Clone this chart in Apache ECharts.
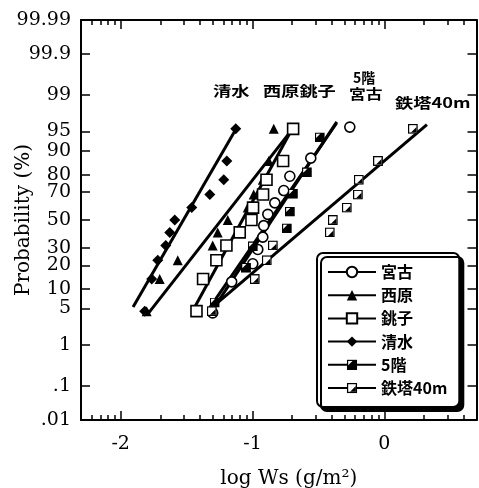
<!DOCTYPE html>
<html>
<head>
<meta charset="utf-8">
<script src="https://cdn.jsdelivr.net/npm/echarts@6/dist/echarts.min.js"></script>
<style>
  html, body { margin: 0; padding: 0; background: #fff; }
  #chart { width: 479px; height: 488px; }
</style>
</head>
<body>
<div id="chart"></div>
<script>
// ---- tick labels of the normal-probability axis (percent) ----
const yTickProb   = [0.01, 0.1, 1, 5, 10, 20, 30, 50, 70, 80, 90, 95, 99, 99.9, 99.99];
const yTickLabels = ['.01', '.1', '1', '5', '10', '20', '30', '50', '70', '80', '90', '95', '99', '99.9', '99.99'];

// ---- log-scale ticks of Ws (g/m2) ----
const xMajorWs = [0.01, 0.1, 1];
const xMinorWs = [0.006, 0.007, 0.008, 0.009,
                  0.02, 0.03, 0.04, 0.05, 0.06, 0.07, 0.08, 0.09,
                  0.2, 0.3, 0.4, 0.5, 0.6, 0.7, 0.8, 0.9,
                  2, 3, 4];
const wsMin = 0.005, wsMax = 5;

// ---- observations: log Ws and cumulative probability (%) ----
const miyakoLogWs = [-1.302, -1.158, -0.998, -0.960, -0.922, -0.915, -0.884, -0.831, -0.763, -0.717, -0.558, -0.262];
const miyakoProb  = [4.2, 12.5, 20.8, 29.2, 37.5, 45.8, 54.2, 62.5, 70.8, 79.2, 87.5, 95.8];

const nishiharaLogWs = [-1.803, -1.704, -1.567, -1.302, -1.264, -1.188, -1.036, -0.991, -0.922, -0.877, -0.839];
const nishiharaProb  = [4.5, 13.6, 22.7, 31.8, 40.9, 50, 59.1, 68.2, 77.3, 86.4, 95.5];

const choshiLogWs = [-1.425, -1.375, -1.274, -1.198, -1.097, -1.008, -0.996, -0.920, -0.894, -0.768, -0.692];
const choshiProb  = [4.5, 13.6, 22.7, 31.8, 40.9, 50, 59.1, 68.2, 77.3, 86.4, 95.5];

const shimizuLogWs = [-1.818, -1.765, -1.719, -1.658, -1.628, -1.590, -1.461, -1.324, -1.218, -1.195, -1.127];
const shimizuProb  = [4.5, 13.6, 22.7, 31.8, 40.9, 50, 59.1, 68.2, 77.3, 86.4, 95.5];

const floor5LogWs = [-1.287, -1.050, -0.998, -0.740, -0.717, -0.694, -0.588, -0.490];
const floor5Prob  = [6.25, 18.75, 31.25, 43.75, 56.25, 68.75, 81.25, 93.75];

const towerLogWs = [-1.309, -0.983, -0.892, -0.846, -0.414, -0.391, -0.285, -0.201, -0.194, -0.049, 0.216];
const towerProb  = [4.5, 13.6, 22.7, 31.8, 40.9, 50, 59.1, 68.2, 77.3, 86.4, 95.5];

// ---- fitted lines: end points (log Ws, %) ----
const miyakoFitLogWs    = [-1.337, -0.363], miyakoFitProb    = [4.7, 96.4];
const nishiharaFitLogWs = [-1.795, -0.702], nishiharaFitProb = [4.0, 95.3];
const choshiFitLogWs    = [-1.438, -0.704], choshiFitProb    = [5.3, 95.3];
const shimizuFitLogWs   = [-1.906, -1.122], shimizuFitProb   = [5.3, 95.6];
const floor5FitLogWs    = [-1.309, -0.361], floor5FitProb    = [4.5, 96.6];
const towerFitLogWs     = [-1.340, 0.323],  towerFitProb     = [4.5, 96.2];

// inverse standard normal CDF (Acklam)
function probit(p) {
  const a = [-3.969683028665376e+01, 2.209460984245205e+02, -2.759285104469687e+02, 1.383577518672690e+02, -3.066479806614716e+01, 2.506628277459239e+00];
  const b = [-5.447609879822406e+01, 1.615858368580409e+02, -1.556989798598866e+02, 6.680131188771972e+01, -1.328068155288572e+01];
  const c = [-7.784894002430293e-03, -3.223964580411365e-01, -2.400758277161838e+00, -2.549732539343734e+00, 4.374664141464968e+00, 2.938163982698783e+00];
  const d = [7.784695709041462e-03, 3.224671290700398e-01, 2.445134137142996e+00, 3.754408661907416e+00];
  const pl = 0.02425, ph = 1 - pl;
  let q, r;
  if (p < pl) {
    q = Math.sqrt(-2 * Math.log(p));
    return (((((c[0]*q+c[1])*q+c[2])*q+c[3])*q+c[4])*q+c[5]) / ((((d[0]*q+d[1])*q+d[2])*q+d[3])*q+1);
  }
  if (p <= ph) {
    q = p - 0.5; r = q * q;
    return (((((a[0]*r+a[1])*r+a[2])*r+a[3])*r+a[4])*r+a[5])*q / (((((b[0]*r+b[1])*r+b[2])*r+b[3])*r+b[4])*r+1);
  }
  q = Math.sqrt(-2 * Math.log(1 - p));
  return -(((((c[0]*q+c[1])*q+c[2])*q+c[3])*q+c[4])*q+c[5]) / ((((d[0]*q+d[1])*q+d[2])*q+d[3])*q+1);
}
const zOf = pct => probit(pct / 100);
const pairs = (xs, ps) => xs.map((x, i) => [x, zOf(ps[i])]);

const yTickZ = yTickProb.map(zOf);
const xMajor = xMajorWs.map(Math.log10);
const xMinor = xMinorWs.map(Math.log10);
const xMin = Math.log10(wsMin), xMax = Math.log10(wsMax);

// two-tone square markers
const svgUri = s => 'image://data:image/svg+xml;charset=utf-8,' + encodeURIComponent(s);
const floor5Symbol = svgUri("<svg xmlns='http://www.w3.org/2000/svg' width='22' height='22' viewBox='0 0 22 22'><rect x='1.5' y='1.5' width='19' height='19' fill='#000' stroke='#000' stroke-width='3'/><path d='M3 3 H12 L3 12 Z' fill='#fff'/></svg>");
const towerSymbol  = svgUri("<svg xmlns='http://www.w3.org/2000/svg' width='22' height='22' viewBox='0 0 22 22'><rect x='1.5' y='1.5' width='19' height='19' fill='#fff' stroke='#000' stroke-width='3'/><path d='M19 7 V19 H7 Z' fill='#000'/></svg>");

const serif = 'DejaVu Serif';
const cjk = '"Noto Sans CJK JP"';

function markerSeries(name, xs, ps, symbol, size, fill) {
  return {
    name, type: 'line', data: pairs(xs, ps), z: 5,
    symbol, symbolSize: size, showSymbol: true,
    lineStyle: { opacity: 0, width: 0 },
    itemStyle: { color: fill, borderColor: '#000', borderWidth: fill === '#fff' ? 1.6 : 0, opacity: 1 },
    emphasis: { disabled: true }, animation: false, silent: true
  };
}
function fitSeries(xs, ps) {
  return {
    type: 'line', data: pairs(xs, ps), z: 3, symbol: 'none',
    lineStyle: { color: '#000', width: 3 },
    emphasis: { disabled: true }, animation: false, silent: true
  };
}

const black = { color: '#000', width: 2 };
function xAxisDef(position, ticks, len, showLine, labels) {
  return {
    type: 'value', position, min: xMin, max: xMax,
    axisLine: { show: showLine, onZero: false, lineStyle: black },
    axisTick: { inside: true, length: len, customValues: ticks, lineStyle: { color: '#000', width: 1.5 } },
    axisLabel: labels ? {
      customValues: ticks, margin: 15, color: '#000', fontFamily: serif, fontSize: 19,
      formatter: v => String(Math.round(v))
    } : { show: false },
    splitLine: { show: false }
  };
}

const option = {
  animation: false,
  backgroundColor: '#fff',
  grid: { left: 81, right: 2.5, top: 20, bottom: 68, containLabel: false, outerBoundsMode: 'none' },
  xAxis: [
    Object.assign(xAxisDef('bottom', xMajor, 9, true, true), {
      name: 'log Ws (g/m²)', nameLocation: 'middle', nameGap: 49, nameMoveOverlap: false,
      nameTextStyle: { color: '#000', fontFamily: serif, fontSize: 20, padding: [0, 0, 0, 20] }
    }),
    xAxisDef('bottom', xMinor, 5, false, false),
    xAxisDef('top', xMajor, 9, true, false),
    xAxisDef('top', xMinor, 5, false, false)
  ],
  yAxis: [
    {
      type: 'value', position: 'left', min: zOf(0.01), max: zOf(99.99),
      name: 'Probability (%)', nameLocation: 'middle', nameGap: 47, nameRotate: 90, nameMoveOverlap: false,
      nameTextStyle: { color: '#000', fontFamily: serif, fontSize: 20 },
      axisLine: { show: true, onZero: false, lineStyle: black },
      axisTick: { inside: true, length: 9, customValues: yTickZ, lineStyle: { color: '#000', width: 1.5 } },
      axisLabel: {
        customValues: yTickZ, margin: 10, color: '#000', fontFamily: serif, fontSize: 19,
        formatter: v => {
          let best = 0;
          yTickZ.forEach((z, i) => { if (Math.abs(z - v) < Math.abs(yTickZ[best] - v)) best = i; });
          return yTickLabels[best];
        }
      },
      splitLine: { show: false }
    },
    {
      type: 'value', position: 'right', min: zOf(0.01), max: zOf(99.99),
      axisLine: { show: true, onZero: false, lineStyle: black },
      axisTick: { inside: true, length: 9, customValues: yTickZ, lineStyle: { color: '#000', width: 1.5 } },
      axisLabel: { show: false },
      splitLine: { show: false }
    }
  ],
  legend: {
    orient: 'vertical', left: 317, top: 253,
    padding: [11, 12, 11, 10],
    itemWidth: 48, itemHeight: 13, itemGap: 7.2,
    backgroundColor: '#fff', borderColor: '#000', borderWidth: 2, borderRadius: 6,
    shadowColor: '#000', shadowBlur: 0, shadowOffsetX: 4, shadowOffsetY: 4,
    lineStyle: { color: '#000', width: 2, opacity: 1, type: 'solid' },
    textStyle: { color: '#000', fontFamily: cjk, fontWeight: 'bold', fontSize: 16, lineHeight: 16 },
    selectedMode: false,
    data: ['宮古', '西原', '銚子', '清水', '5階', '鉄塔40m']
  },
  graphic: [
    { type: 'text', x: 213, y: 84, scaleX: 1.3, style: { text: '清水', font: 'bold 14px ' + cjk, fill: '#000' } },
    { type: 'text', x: 263, y: 84, scaleX: 1.3, style: { text: '西原銚子', font: 'bold 14px ' + cjk, fill: '#000' } },
    { type: 'text', x: 353, y: 71, scaleX: 1.0, style: { text: '5階', font: 'bold 14px ' + cjk, fill: '#000' } },
    { type: 'text', x: 349, y: 87, scaleX: 1.2, style: { text: '宮古', font: 'bold 14px ' + cjk, fill: '#000' } },
    { type: 'text', x: 395, y: 96, scaleX: 1.3, style: { text: '鉄塔40m', font: 'bold 14px ' + cjk, fill: '#000' } }
  ],
  series: [
    fitSeries(miyakoFitLogWs, miyakoFitProb),
    fitSeries(nishiharaFitLogWs, nishiharaFitProb),
    fitSeries(choshiFitLogWs, choshiFitProb),
    fitSeries(shimizuFitLogWs, shimizuFitProb),
    fitSeries(floor5FitLogWs, floor5FitProb),
    fitSeries(towerFitLogWs, towerFitProb),
    markerSeries('宮古', miyakoLogWs, miyakoProb, 'circle', 10, '#fff'),
    markerSeries('西原', nishiharaLogWs, nishiharaProb, 'triangle', 10, '#000'),
    markerSeries('銚子', choshiLogWs, choshiProb, 'rect', 11, '#fff'),
    markerSeries('清水', shimizuLogWs, shimizuProb, 'diamond', 11, '#000'),
    markerSeries('5階', floor5LogWs, floor5Prob, floor5Symbol, 10, '#000'),
    markerSeries('鉄塔40m', towerLogWs, towerProb, towerSymbol, 10, '#fff')
  ]
};

const chart = echarts.init(document.getElementById('chart'), null, { renderer: 'canvas' });
chart.setOption(option);
</script>
</body>
</html>
